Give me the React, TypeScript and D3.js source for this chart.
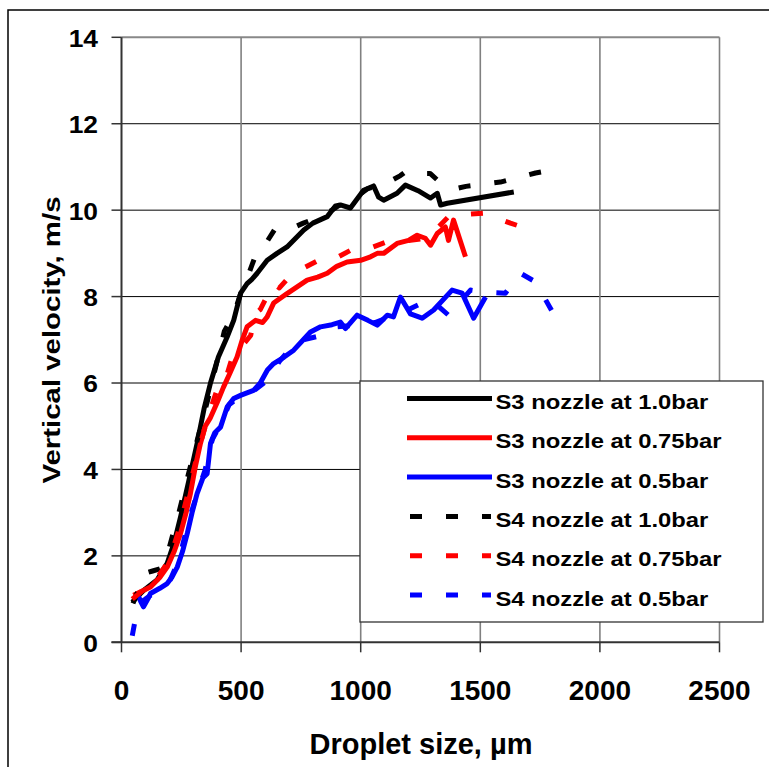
import React from "react";
import * as d3 from "d3";

// ---- data ----
const xTicks = [0, 500, 1000, 1500, 2000, 2500];
const yTicks = [0, 2, 4, 6, 8, 10, 12, 14];

const s3_10: [number, number][] = [
  [45, 0.93], [92, 1.2], [150, 1.45], [191, 1.83], [220, 2.3], [247, 2.9], [280, 3.7], [316, 4.6],
  [345, 5.4], [372, 6.0], [405, 6.6], [442, 7.07], [469, 7.45], [498, 8.08], [525, 8.3], [545, 8.4],
  [567, 8.54], [609, 8.84], [650, 9.0], [692, 9.15], [762, 9.54], [800, 9.7], [860, 9.85], [895, 10.1],
  [915, 10.12], [957, 10.05], [1012, 10.46], [1054, 10.56], [1075, 10.3], [1096, 10.23], [1152, 10.39],
  [1187, 10.58], [1240, 10.45], [1292, 10.28], [1320, 10.39], [1334, 10.12], [1362, 10.16], [1640, 10.42],
];

const s3_075: [number, number][] = [
  [50, 1.09], [121, 1.28], [160, 1.5], [191, 1.74], [220, 2.1], [247, 2.52], [270, 3.0], [288, 3.44],
  [310, 4.1], [330, 4.6], [350, 5.0], [372, 5.2], [400, 5.55], [426, 5.9], [455, 6.25], [483, 6.6],
  [505, 7.0], [525, 7.3], [560, 7.45], [590, 7.4], [609, 7.53], [636, 7.85], [692, 8.07], [776, 8.38],
  [820, 8.45], [860, 8.54], [900, 8.7], [943, 8.8], [1000, 8.84], [1041, 8.92], [1069, 9.0], [1096, 9.0],
  [1152, 9.23], [1200, 9.3], [1236, 9.42], [1270, 9.35], [1292, 9.19], [1320, 9.46], [1354, 9.61],
  [1367, 9.3], [1388, 9.77], [1438, 8.92],
];

const s3_05: [number, number][] = [
  [66, 1.13], [80, 0.95], [92, 0.82], [110, 1.0], [121, 1.13], [160, 1.25], [191, 1.36], [210, 1.5],
  [233, 1.74], [255, 2.1], [275, 2.52], [295, 3.0], [316, 3.44], [340, 3.8], [358, 3.9], [372, 4.6],
  [390, 4.85], [414, 4.98], [442, 5.45], [469, 5.64], [500, 5.72], [552, 5.83], [580, 6.0], [610, 6.3],
  [636, 6.45], [680, 6.6], [720, 6.76], [760, 7.0], [790, 7.18], [832, 7.3], [880, 7.35], [915, 7.41],
  [936, 7.26], [985, 7.57], [1030, 7.45], [1069, 7.34], [1090, 7.45], [1111, 7.57], [1137, 7.53],
  [1166, 7.99], [1208, 7.6], [1257, 7.5], [1305, 7.69], [1382, 8.15], [1424, 8.08], [1472, 7.5], [1522, 7.99],
];

const s4_10: [number, number][] = [
  [48, 0.9], [70, 1.2], [100, 1.6], [130, 1.65], [160, 1.7], [200, 2.2], [240, 3.0], [280, 3.9],
  [320, 4.75], [360, 5.6], [395, 6.4], [430, 7.2], [470, 7.6], [500, 8.1], [530, 8.5], [560, 8.95],
  [600, 9.2], [640, 9.55], [700, 9.55], [760, 9.7], [830, 9.85], [880, 10.0], [920, 10.15], [980, 10.3],
  [1030, 10.5], [1100, 10.6], [1166, 10.8], [1190, 10.9], [1230, 10.85], [1290, 10.85], [1320, 10.7],
  [1400, 10.5], [1440, 10.55], [1584, 10.65], [1731, 10.86], [1770, 10.9],
];

const s4_075: [number, number][] = [
  [45, 1.0], [100, 1.25], [150, 1.5], [200, 1.9], [240, 2.6], [280, 3.5], [320, 4.4], [360, 5.2],
  [400, 5.85], [430, 6.0], [469, 6.7], [510, 6.9], [540, 7.1], [560, 7.6], [580, 7.7], [608, 8.0],
  [636, 8.3], [660, 8.2], [700, 8.45], [740, 8.6], [824, 8.84], [900, 8.9], [957, 9.07], [1030, 9.1],
  [1111, 9.27], [1200, 9.3], [1280, 9.35], [1367, 9.85], [1440, 9.9], [1513, 9.93], [1626, 9.7],
  [1680, 9.6], [1745, 9.45],
];

const s4_05: [number, number][] = [
  [45, 0.15], [55, 0.45], [71, 0.9], [100, 1.0], [150, 1.2], [200, 1.4], [240, 1.9], [280, 2.8],
  [320, 3.5], [350, 4.0], [380, 4.7], [410, 5.0], [450, 5.5], [500, 5.7], [560, 5.85], [611, 6.07],
  [660, 6.5], [703, 6.78], [760, 7.0], [836, 7.1], [900, 7.3], [991, 7.34], [1060, 7.4], [1130, 7.55],
  [1200, 7.7], [1257, 7.85], [1300, 7.9], [1367, 7.57], [1459, 8.15], [1530, 8.1], [1605, 8.08],
  [1668, 8.54], [1731, 8.34], [1806, 7.6],
];

const seriesNames = [
  "S3 nozzle at 1.0bar",
  "S3 nozzle at 0.75bar",
  "S3 nozzle at 0.5bar",
  "S4 nozzle at 1.0bar",
  "S4 nozzle at 0.75bar",
  "S4 nozzle at 0.5bar",
];
const seriesData = [s3_10, s3_075, s3_05, s4_10, s4_075, s4_05];
const seriesColors = ["#000000", "#FF0000", "#0000FF", "#000000", "#FF0000", "#0000FF"];
const seriesDashed = [false, false, false, true, true, true];

const xTitle = "Droplet size, µm";
const yTitle = "Vertical velocity, m/s";

export default function App() {
  const W = 769;
  const H = 767;
  const x = d3.scaleLinear().domain([0, 2500]).range([121.5, 719.5]);
  const y = d3.scaleLinear().domain([0, 14]).range([642.3, 37.3]);
  const line = d3
    .line<[number, number]>()
    .x((d) => x(d[0]))
    .y((d) => y(d[1]));
  const font = "'Liberation Sans', Arial, Helvetica, sans-serif";

  const legX = 360;
  const legY = 381;
  const legW = 403;
  const legH = 241;
  const rowY = (i: number) => 398.5 + i * 39.3;

  return (
    <svg
      width={W}
      height={H}
      style={{ position: "absolute", left: 0, top: 0, background: "#fff" }}
      fontFamily={font}
      fontWeight="bold"
    >
      <rect x={0} y={0} width={W} height={H} fill="#fff" />
      {/* outer frame */}
      <rect x={8} y={10} width={W + 20} height={H + 20} fill="none" stroke="#000" strokeWidth={1.5} />

      {/* horizontal grid */}
      {yTicks.filter((t) => t > 0 && t < 14).map((t) => (
        <line key={"hg" + t} x1={x(0)} x2={x(2500)} y1={y(t)} y2={y(t)} stroke="#000" strokeWidth={1} />
      ))}
      <line x1={x(0)} x2={x(2500)} y1={y(14)} y2={y(14)} stroke="#888" strokeWidth={2} />
      {/* vertical grid */}
      {xTicks.filter((t) => t > 0).map((t) => (
        <line key={"vg" + t} x1={x(t)} x2={x(t)} y1={y(14)} y2={y(0)} stroke="#808080" strokeWidth={1.6} />
      ))}

      {/* series */}
      {seriesData.map((data, i) => (
        <path
          key={"s" + i}
          d={line(data) || ""}
          fill="none"
          stroke={seriesColors[i]}
          strokeWidth={5}
          strokeLinejoin="round"
          strokeDasharray={seriesDashed[i] ? "12,24" : undefined}
        />
      ))}

      {/* axes */}
      <line x1={x(0)} x2={x(0)} y1={y(14)} y2={y(0)} stroke="#333" strokeWidth={2} />
      <line x1={x(0) - 10} x2={x(2500)} y1={y(0)} y2={y(0)} stroke="#333" strokeWidth={2} />
      {yTicks.map((t) => (
        <line key={"yt" + t} x1={x(0) - 10} x2={x(0)} y1={y(t)} y2={y(t)} stroke="#333" strokeWidth={1.5} />
      ))}
      {xTicks.map((t) => (
        <line key={"xt" + t} x1={x(t)} x2={x(t)} y1={y(0)} y2={y(0) + 10} stroke="#333" strokeWidth={1.5} />
      ))}

      {/* tick labels */}
      {yTicks.map((t) => (
        <text
          key={"yl" + t}
          transform={`translate(98,${y(t) + 9.4}) scale(1.1,1)`}
          textAnchor="end"
          fontSize={24}
          fill="#000"
        >
          {t}
        </text>
      ))}
      {xTicks.map((t) => (
        <text key={"xl" + t} x={x(t)} y={700} textAnchor="middle" fontSize={28} fill="#000">
          {t}
        </text>
      ))}

      {/* axis titles */}
      <text x={421} y={754} textAnchor="middle" fontSize={29} fill="#000">
        {xTitle}
      </text>
      <text
        transform="translate(60,340) rotate(-90)"
        textAnchor="middle"
        fontSize={23}
        fill="#000"
        textLength={287}
        lengthAdjust="spacingAndGlyphs"
      >
        {yTitle}
      </text>

      {/* legend */}
      <rect x={legX} y={legY} width={legW} height={legH} fill="#fff" stroke="#333" strokeWidth={1.3} />
      {seriesNames.map((name, i) => (
        <g key={"lg" + i}>
          <line
            x1={seriesDashed[i] ? 410 : 407}
            x2={seriesDashed[i] ? 491 : 492}
            y1={rowY(i)}
            y2={rowY(i)}
            stroke={seriesColors[i]}
            strokeWidth={5}
            strokeDasharray={seriesDashed[i] ? "12,24" : undefined}
          />
          <text transform={`translate(495.5,${rowY(i) + 10.5}) scale(1.19,1)`} fontSize={20} fill="#000">
            {name}
          </text>
        </g>
      ))}
    </svg>
  );
}
